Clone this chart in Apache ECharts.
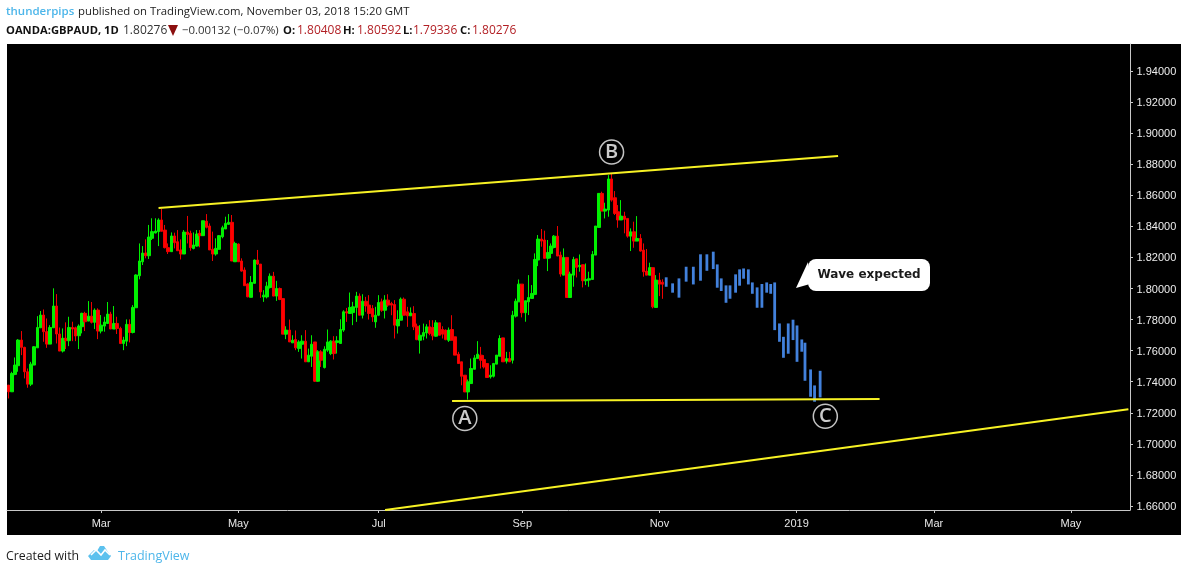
<!DOCTYPE html>
<html><head><meta charset="utf-8">
<style>html,body{margin:0;padding:0;background:#fff}#c{width:1188px;height:572px}</style>
<script src="https://cdn.jsdelivr.net/npm/echarts@6/dist/echarts.min.js"></script>
</head><body><div id="c"></div>
<script>
const opens=[1.7378,1.7335,1.7447,1.7503,1.7668,1.7621,1.7464,1.7384,1.7507,1.7618,
1.7747,1.7829,1.7722,1.7642,1.7747,1.7887,1.7707,1.7597,1.7679,1.7664,
1.7749,1.7747,1.7696,1.7754,1.7840,1.7790,1.7822,1.7782,1.7861,1.7726,
1.7758,1.7775,1.7835,1.7739,1.7775,1.7743,1.7646,1.7661,1.7769,1.7717,
1.7876,1.8082,1.8172,1.8228,1.8211,1.8323,1.8357,1.8366,1.8441,1.8376,
1.8263,1.8237,1.8338,1.8301,1.8248,1.8222,1.8363,1.8355,1.8258,1.8273,
1.8355,1.8340,1.8434,1.8402,1.8252,1.8222,1.8252,1.8333,1.8383,1.8413,
1.8426,1.8172,1.8286,1.8177,1.8119,1.8029,1.7943,1.8033,1.8183,1.8157,
1.7946,1.7946,1.8006,1.8079,1.7951,1.8000,1.7935,1.7706,1.7732,1.7650,
1.7671,1.7613,1.7641,1.7661,1.7528,1.7564,1.7656,1.7403,1.7592,1.7491,
1.7603,1.7581,1.7661,1.7652,1.7646,1.7732,1.7850,1.7839,1.7845,1.7878,
1.7951,1.7828,1.7918,1.7893,1.7871,1.7785,1.7828,1.7914,1.7860,1.7925,
1.7903,1.7897,1.7759,1.7796,1.7931,1.7850,1.7824,1.7839,1.7757,1.7667,
1.7693,1.7714,1.7753,1.7749,1.7693,1.7779,1.7736,1.7732,1.7667,1.7736,
1.7689,1.7577,1.7528,1.7442,1.7334,1.7388,1.7480,1.7549,1.7571,1.7543,
1.7517,1.7431,1.7435,1.7513,1.7564,1.7682,1.7532,1.7549,1.7538,1.7822,
1.7914,1.8028,1.7844,1.7914,1.7936,1.7962,1.8183,1.8318,1.8312,1.8194,
1.8226,1.8264,1.8337,1.8215,1.8086,1.8200,1.7942,1.8086,1.8191,1.8140,
1.8153,1.8050,1.8054,1.8058,1.8215,1.8393,1.8612,1.8498,1.8505,1.8705,
1.8584,1.8494,1.8441,1.8466,1.8451,1.8337,1.8365,1.8305,1.8322,1.8247,
1.8112,1.8086,1.8134,1.7878,1.8054,1.80408];
const closes=[1.7335,1.7453,1.7507,1.7668,1.7621,1.7464,1.7384,1.7513,1.7625,1.7749,
1.7829,1.7722,1.7642,1.7749,1.7887,1.7707,1.7597,1.7679,1.7664,1.7749,
1.7739,1.7694,1.7758,1.7840,1.7786,1.7822,1.7782,1.7861,1.7726,1.7764,
1.7784,1.7835,1.7739,1.7775,1.7743,1.7646,1.7668,1.7769,1.7717,1.7878,
1.8087,1.8177,1.8228,1.8211,1.8331,1.8366,1.8370,1.8441,1.8368,1.8263,
1.8237,1.8338,1.8295,1.8243,1.8222,1.8363,1.8348,1.8263,1.8280,1.8351,
1.8340,1.8436,1.8394,1.8248,1.8222,1.8258,1.8340,1.8391,1.8419,1.8426,
1.8177,1.8290,1.8172,1.8112,1.8018,1.7947,1.8039,1.8183,1.8157,1.7978,
1.7957,1.8015,1.8079,1.7951,1.8000,1.7929,1.7706,1.7732,1.7656,1.7667,
1.7618,1.7656,1.7661,1.7528,1.7571,1.7641,1.7403,1.7592,1.7538,1.7609,
1.7656,1.7661,1.7581,1.7663,1.7736,1.7850,1.7843,1.7878,1.7882,1.7951,
1.7828,1.7918,1.7888,1.7839,1.7817,1.7828,1.7910,1.7860,1.7925,1.7893,
1.7893,1.7764,1.7800,1.7931,1.7828,1.7824,1.7843,1.7753,1.7671,1.7699,
1.7716,1.7753,1.7710,1.7695,1.7779,1.7699,1.7706,1.7671,1.7732,1.7667,
1.7571,1.7517,1.7435,1.7334,1.7399,1.7485,1.7553,1.7577,1.7538,1.7495,
1.7427,1.7442,1.7517,1.7571,1.7678,1.7528,1.7549,1.7528,1.7828,1.7918,
1.8028,1.7844,1.7921,1.7942,1.7968,1.8187,1.8318,1.8305,1.8194,1.8232,
1.8273,1.8337,1.8209,1.8093,1.8200,1.7942,1.8093,1.8187,1.8136,1.8149,
1.8050,1.8058,1.8063,1.8219,1.8402,1.8612,1.8498,1.8511,1.8705,1.8569,
1.8483,1.8441,1.8466,1.8445,1.8337,1.8365,1.8305,1.8322,1.8241,1.8108,
1.8086,1.8134,1.7882,1.8054,1.8028,1.80276];
const highs=[1.7378,1.7464,1.7556,1.7674,1.7726,1.7625,1.7485,1.7528,1.7629,1.7822,
1.7855,1.7865,1.7807,1.7764,1.8001,1.7964,1.7749,1.7743,1.7782,1.7818,
1.7786,1.7754,1.7769,1.7844,1.7850,1.7919,1.7913,1.7872,1.7872,1.7829,
1.7818,1.7913,1.7850,1.7887,1.7818,1.7754,1.7689,1.7801,1.7801,1.7893,
1.8091,1.8290,1.8273,1.8316,1.8409,1.8452,1.8452,1.8452,1.8512,1.8409,
1.8290,1.8361,1.8359,1.8376,1.8316,1.8376,1.8467,1.8372,1.8361,1.8376,
1.8376,1.8436,1.8479,1.8419,1.8366,1.8323,1.8344,1.8404,1.8462,1.8479,
1.8473,1.8301,1.8290,1.8194,1.8136,1.8033,1.8080,1.8187,1.8248,1.8157,
1.7989,1.8043,1.8097,1.8107,1.8049,1.8006,1.7935,1.7757,1.7800,1.7699,
1.7730,1.7667,1.7699,1.7732,1.7613,1.7699,1.7656,1.7603,1.7603,1.7628,
1.7736,1.7667,1.7693,1.7693,1.7802,1.7860,1.7875,1.7974,1.7914,1.7978,
1.7968,1.7963,1.7946,1.7957,1.7893,1.7882,1.7957,1.7935,1.7957,1.7963,
1.7914,1.7925,1.7860,1.7942,1.7942,1.7882,1.7878,1.7886,1.7774,1.7764,
1.7774,1.7770,1.7796,1.7796,1.7796,1.7779,1.7757,1.7736,1.7749,1.7828,
1.7689,1.7592,1.7528,1.7442,1.7414,1.7549,1.7571,1.7661,1.7624,1.7571,
1.7517,1.7506,1.7521,1.7571,1.7699,1.7682,1.7592,1.7592,1.7856,1.7935,
1.8058,1.8028,1.7921,1.8086,1.8022,1.8226,1.8344,1.8383,1.8372,1.8312,
1.8290,1.8344,1.8402,1.8237,1.8258,1.8200,1.8108,1.8204,1.8191,1.8219,
1.8153,1.8161,1.8108,1.8241,1.8402,1.8612,1.8623,1.8552,1.8730,1.8737,
1.8627,1.8537,1.8569,1.8494,1.8451,1.8387,1.8430,1.8466,1.8350,1.8290,
1.8254,1.8166,1.8134,1.8086,1.8101,1.80592];
const lows=[1.7292,1.7335,1.7442,1.7464,1.7571,1.7421,1.7361,1.7372,1.7507,1.7618,
1.7747,1.7657,1.7618,1.7642,1.7747,1.7646,1.7597,1.7588,1.7610,1.7629,
1.7661,1.7661,1.7610,1.7711,1.7726,1.7790,1.7775,1.7739,1.7674,1.7711,
1.7722,1.7771,1.7739,1.7739,1.7707,1.7642,1.7603,1.7629,1.7653,1.7711,
1.7876,1.8059,1.8151,1.8194,1.8190,1.8312,1.8355,1.8273,1.8368,1.8258,
1.8222,1.8237,1.8258,1.8243,1.8187,1.8222,1.8290,1.8243,1.8252,1.8269,
1.8265,1.8340,1.8387,1.8248,1.8177,1.8211,1.8252,1.8323,1.8383,1.8409,
1.8177,1.8172,1.8172,1.8108,1.8018,1.7943,1.7943,1.8033,1.8151,1.7940,
1.7914,1.7936,1.8000,1.7951,1.7920,1.7925,1.7706,1.7674,1.7656,1.7650,
1.7603,1.7592,1.7549,1.7528,1.7528,1.7495,1.7399,1.7399,1.7495,1.7485,
1.7592,1.7571,1.7543,1.7581,1.7646,1.7721,1.7785,1.7839,1.7764,1.7785,
1.7828,1.7807,1.7850,1.7800,1.7785,1.7747,1.7822,1.7850,1.7807,1.7882,
1.7828,1.7678,1.7710,1.7796,1.7828,1.7753,1.7824,1.7732,1.7667,1.7581,
1.7667,1.7678,1.7699,1.7667,1.7689,1.7699,1.7678,1.7667,1.7656,1.7667,
1.7571,1.7517,1.7377,1.7334,1.7285,1.7388,1.7480,1.7549,1.7485,1.7485,
1.7427,1.7420,1.7427,1.7513,1.7564,1.7528,1.7517,1.7528,1.7517,1.7813,
1.7914,1.7814,1.7786,1.7829,1.7936,1.7957,1.8144,1.8269,1.8194,1.8112,
1.8194,1.8258,1.8209,1.8076,1.8086,1.7942,1.7942,1.8011,1.8071,1.8108,
1.8007,1.8022,1.8011,1.8058,1.8215,1.8393,1.8498,1.8451,1.8462,1.8559,
1.8473,1.8391,1.8441,1.8355,1.8327,1.8241,1.8262,1.8305,1.8237,1.8076,
1.8086,1.8086,1.7872,1.7878,1.7951,1.79336];

const forecastSlots=[826,834,842,851,860,869,877,885,890,895,901,906,913,918,923,929,934,940,946,952,957,962,968,973,979,985,990,996,1000,1007,1012,1019];
const forecastTops=[1.8072,1.8033,1.8065,1.8140,1.8140,1.8220,1.8220,1.8237,1.8155,1.8065,1.8020,1.8020,1.8091,1.8123,1.8129,1.8123,1.8039,1.8007,1.8029,1.8039,1.8029,1.8039,1.7775,1.7689,1.7775,1.7799,1.7762,1.7672,1.7651,1.7479,1.7376,1.7470];
const forecastBottoms=[1.8011,1.7973,1.7941,1.8044,1.8026,1.8050,1.8114,1.8125,1.8005,1.7984,1.7908,1.7934,1.7973,1.8018,1.8063,1.8026,1.7966,1.7876,1.7876,1.7973,1.7966,1.7732,1.7657,1.7554,1.7580,1.7668,1.7528,1.7593,1.7406,1.7303,1.7271,1.7299];

const tickDates=['2018-03-01','2018-05-01','2018-07-02','2018-09-03','2018-11-01','2019-01-01','2019-03-01','2019-05-01'];
const tickLabels=['Mar','May','Jul','Sep','Nov','2019','Mar','May'];
const priceTicks=[1.66,1.68,1.70,1.72,1.74,1.76,1.78,1.80,1.82,1.84,1.86,1.88,1.90,1.92,1.94];

const resistanceLine=[[47,1.8518],[260,1.8853]];
const supportLine=[[139,1.7275],[273,1.7288]];
const channelLine=[[118,1.6574],[351,1.7222]];
const waveLabels=[{slot:143,price:1.7163,name:'A'},{slot:189,price:1.8878,name:'B'},{slot:256,price:1.7178,name:'C'}];

const slotCount=352, fineSlotCount=1408;
const categories=[];
for(let d=new Date(Date.UTC(2018,0,19));categories.length<slotCount;d=new Date(d.getTime()+864e5)){
  const w=d.getUTCDay(); if(w!==0&&w!==6) categories.push(d.toISOString().slice(0,10));
}
const fineCategories=Array.from({length:fineSlotCount},(_,i)=>String(i));
const candles=opens.map((o,i)=>[o,closes[i],lows[i],highs[i]]);
const forecast=forecastSlots.map((s,i)=>[s,forecastTops[i],forecastBottoms[i]]);

const trend=(name,data)=>({name,type:'line',data,symbol:'none',z:5,clip:true,silent:true,
  lineStyle:{color:'#f7f224',width:2},itemStyle:{color:'#f7f224'}});
const isTick=(i,v)=>tickDates.includes(v);
const headFont='"Open Sans",sans-serif';
const hText=(x,y,text,fill,weight,size)=>({type:'text',x,y,silent:true,z:20,style:{text,fill,font:weight+' '+size+'px '+headFont,textVerticalAlign:'middle'}});

const chart=echarts.init(document.getElementById('c'),null,{renderer:'canvas'});
chart.setOption({
  animation:false,
  backgroundColor:'#ffffff',
  grid:{left:7,right:58,top:44,bottom:62,containLabel:false},
  xAxis:[{type:'category',data:categories,boundaryGap:true,
    axisLine:{show:true,lineStyle:{color:'#c8c8c8',width:1}},
    axisTick:{show:true,interval:isTick,alignWithLabel:true,length:3,lineStyle:{color:'#c8c8c8'}},
    axisLabel:{interval:isTick,margin:8,color:'#e6e6e6',fontFamily:'"Liberation Sans"',fontSize:11,hideOverlap:false,
      formatter:v=>tickLabels[tickDates.indexOf(v)]},
    splitLine:{show:false}},
    {type:'category',data:fineCategories,boundaryGap:true,show:false}],
  yAxis:{type:'value',position:'right',scale:true,min:1.65741,max:1.95738,
    axisLine:{show:true,onZero:false,lineStyle:{color:'#c8c8c8',width:1}},
    axisTick:{show:true,length:3,customValues:priceTicks,lineStyle:{color:'#c8c8c8'}},
    axisLabel:{customValues:priceTicks,margin:6.5,verticalAlign:'top',lineHeight:2,color:'#ececec',fontFamily:'"Liberation Sans"',fontSize:11,formatter:v=>v.toFixed(5)},
    splitLine:{show:false}},
  series:[
    {name:'GBPAUD',type:'candlestick',data:candles,barWidth:3,z:3,silent:true,
      itemStyle:{color:'#00f000',borderColor:'#00f000',color0:'#ff0000',borderColor0:'#f00000',borderWidth:1}},
    {name:'Projected wave',type:'custom',xAxisIndex:1,data:forecast,z:3,silent:true,
      encode:{x:0,y:[1,2]},
      renderItem:(params,api)=>{
        const a=api.coord([api.value(0),api.value(1)]), b=api.coord([api.value(0),api.value(2)]);
        return {type:'rect',shape:{x:a[0]-1.4,y:a[1],width:2.8,height:b[1]-a[1]},style:{fill:'#4281dc'}};
      }},
    trend('Resistance',resistanceLine),
    trend('Support',supportLine),
    trend('Channel',channelLine),
    {name:'Wave labels',type:'scatter',z:6,silent:true,symbol:'circle',symbolSize:24,
      data:waveLabels.map(w=>({value:[w.slot,w.price],name:w.name})),
      itemStyle:{color:'#000',borderColor:'#f4f4f4',borderWidth:1.5},
      label:{show:true,position:'inside',formatter:p=>p.name,color:'#fff',fontFamily:'"Open Sans"',fontWeight:600,fontSize:20}}
  ],
  graphic:{elements:[
    {type:'rect',shape:{x:7,y:44,width:1174,height:491},style:{fill:'#000'},z:-10,silent:true},
    hText(6,12,'thunderpips','#4db6ea','600',11.5),
    hText(78,12,'published on TradingView.com, November 03, 2018 15:20 GMT','#1c1c1c','normal',11.35),
    hText(6,31,'OANDA:GBPAUD, 1D','#111','bold',11.2),
    hText(123,31,'1.80276','#333','normal',12),
    {type:'polygon',shape:{points:[[168,25],[178,25],[173,36]]},style:{fill:'#8b0f0f'},z:20,silent:true},
    hText(182,31,'\u22120.00132 (\u22120.07%)','#333','normal',11.4),
    hText(283,31,'O:','#111','bold',11.2), hText(297,31,'1.80408','#b21f24','normal',12),
    hText(343,31,'H:','#111','bold',11.2), hText(357,31,'1.80592','#b21f24','normal',12),
    hText(403,31,'L:','#111','bold',11.2), hText(413,31,'1.79336','#b21f24','normal',12),
    hText(460,31,'C:','#111','bold',11.2), hText(472,31,'1.80276','#b21f24','normal',12),
    hText(6,556,'Created with','#1c1c1c','normal',12.3),
    {type:'polygon',shape:{points:[[88,556],[94,550],[97,551],[100,546],[104,546],[108,552],[111,556],[108,560],[91,560]]},style:{fill:'#5cc1ee'},z:20,silent:true},
    {type:'polyline',shape:{points:[[91,555],[96,550],[101,555],[105,550],[110,555]]},style:{stroke:'#fff',lineWidth:1.6,fill:null},z:21,silent:true},
    hText(118,556,'TradingView','#4db6ea','normal',12.5),
    {type:'polygon',shape:{points:[[808,262],[796,288],[810,284]]},style:{fill:'#fff'},z:18,silent:true},
    {type:'rect',shape:{x:808,y:259,width:122,height:32,r:8},style:{fill:'#fff'},z:18,silent:true},
    {type:'text',x:869,y:275,z:19,silent:true,style:{text:'Wave expected',fill:'#1a1a1a',font:'bold 12px "DejaVu Sans"',textAlign:'center',textVerticalAlign:'middle'}}
  ]}
});
</script></body></html>
